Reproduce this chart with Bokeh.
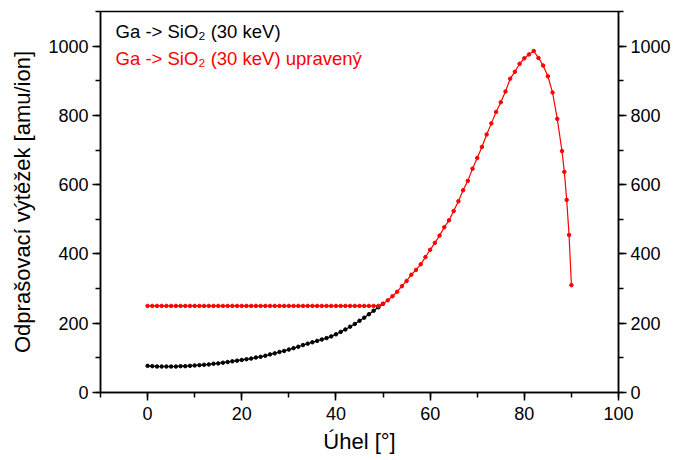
from bokeh.plotting import figure
from bokeh.models import Range1d, LinearAxis, SingleIntervalTicker, Label
from bokeh.embed import file_html
from bokeh.resources import INLINE

# --- data -------------------------------------------------------------
angle_orig = list(range(0, 51))
yield_orig = [77, 76, 75, 75, 75, 75, 75, 76, 76, 77,
              78, 79, 80, 81, 83, 84, 86, 88, 90, 92,
              94, 96, 98, 101, 103, 106, 110, 113, 117, 120,
              124, 128, 132, 137, 141, 145, 149, 153, 157, 162,
              168, 175, 182, 190, 198, 207, 216, 226, 236, 246,
              256]

angle_adj = list(range(0, 89)) + [88.5, 89, 89.5, 90]
yield_adj = [250] * 50 + [
    256, 266, 278, 291, 307, 322, 340, 354, 370, 391,
    412, 432, 453, 477, 497, 524, 552, 584, 611, 646,
    677, 709, 745, 777, 810, 838, 869, 906, 926, 949,
    965, 976, 986, 966, 944, 913, 866, 790, 697,
    637, 556, 455, 310]

x_ticks_interval = 20
y_ticks_interval = 200
legend_texts = ["Ga -> SiO\u2082 (30 keV)", "Ga -> SiO\u2082 (30 keV) upravený"]
legend_colors = ["black", "#ff0000"]

FONT = "Liberation Sans"

p = figure(width=673, height=460,
           x_range=Range1d(-10, 100), y_range=Range1d(0, 1100),
           output_backend="svg", toolbar_location=None,
           min_border_left=100, min_border_right=55,
           min_border_top=11, min_border_bottom=68,
           x_axis_label="Úhel [°]",
           y_axis_label="Odprašovací výtěžek [amu/ion]")
p.grid.visible = False
p.outline_line_color = "black"
p.outline_line_width = 1.5
p.background_fill_color = "white"
p.border_fill_color = "white"

p.xaxis.ticker = SingleIntervalTicker(interval=x_ticks_interval, num_minor_ticks=2)
p.yaxis.ticker = SingleIntervalTicker(interval=y_ticks_interval, num_minor_ticks=2)

right_axis = LinearAxis(ticker=SingleIntervalTicker(interval=y_ticks_interval, num_minor_ticks=2))
p.add_layout(right_axis, "right")


def style_axis(ax):
    ax.axis_line_width = 1.5
    ax.axis_line_color = "black"
    ax.major_tick_in = 0
    ax.major_tick_out = 8
    ax.minor_tick_in = 0
    ax.minor_tick_out = 5
    ax.major_tick_line_width = 1.5
    ax.minor_tick_line_width = 1.5
    ax.major_tick_line_color = "black"
    ax.minor_tick_line_color = "black"
    ax.major_label_text_font = FONT
    ax.major_label_text_font_size = "18px"
    ax.major_label_text_color = "black"
    ax.major_label_standoff = 4
    ax.axis_label_text_font = FONT
    ax.axis_label_text_font_size = "22px"
    ax.axis_label_text_font_style = "normal"
    ax.axis_label_text_color = "black"


for ax in list(p.xaxis) + list(p.yaxis):
    style_axis(ax)

p.xaxis.major_label_standoff = 6
p.xaxis.axis_label_standoff = 6
p.yaxis[0].axis_label_standoff = 10

# --- series -----------------------------------------------------------
p.line(angle_orig, yield_orig, line_color="black", line_width=1.2)
p.scatter(angle_orig, yield_orig, marker="circle", size=3.5,
          fill_color="black", line_color="black")
p.line(angle_adj, yield_adj, line_color="#ff0000", line_width=1.2)
p.scatter(angle_adj, yield_adj, marker="circle", size=3.5,
          fill_color="#ff0000", line_color="#ff0000")

# --- legend (text only) -----------------------------------------------
legend_y = [1043, 965]
for txt, col, yy in zip(legend_texts, legend_colors, legend_y):
    p.add_layout(Label(x=-6.8, y=yy, text=txt, text_font=FONT,
                       text_font_size="18.5px", text_color=col,
                       text_baseline="alphabetic", text_align="left"))

open("out.html", "w").write(file_html(p, INLINE))
